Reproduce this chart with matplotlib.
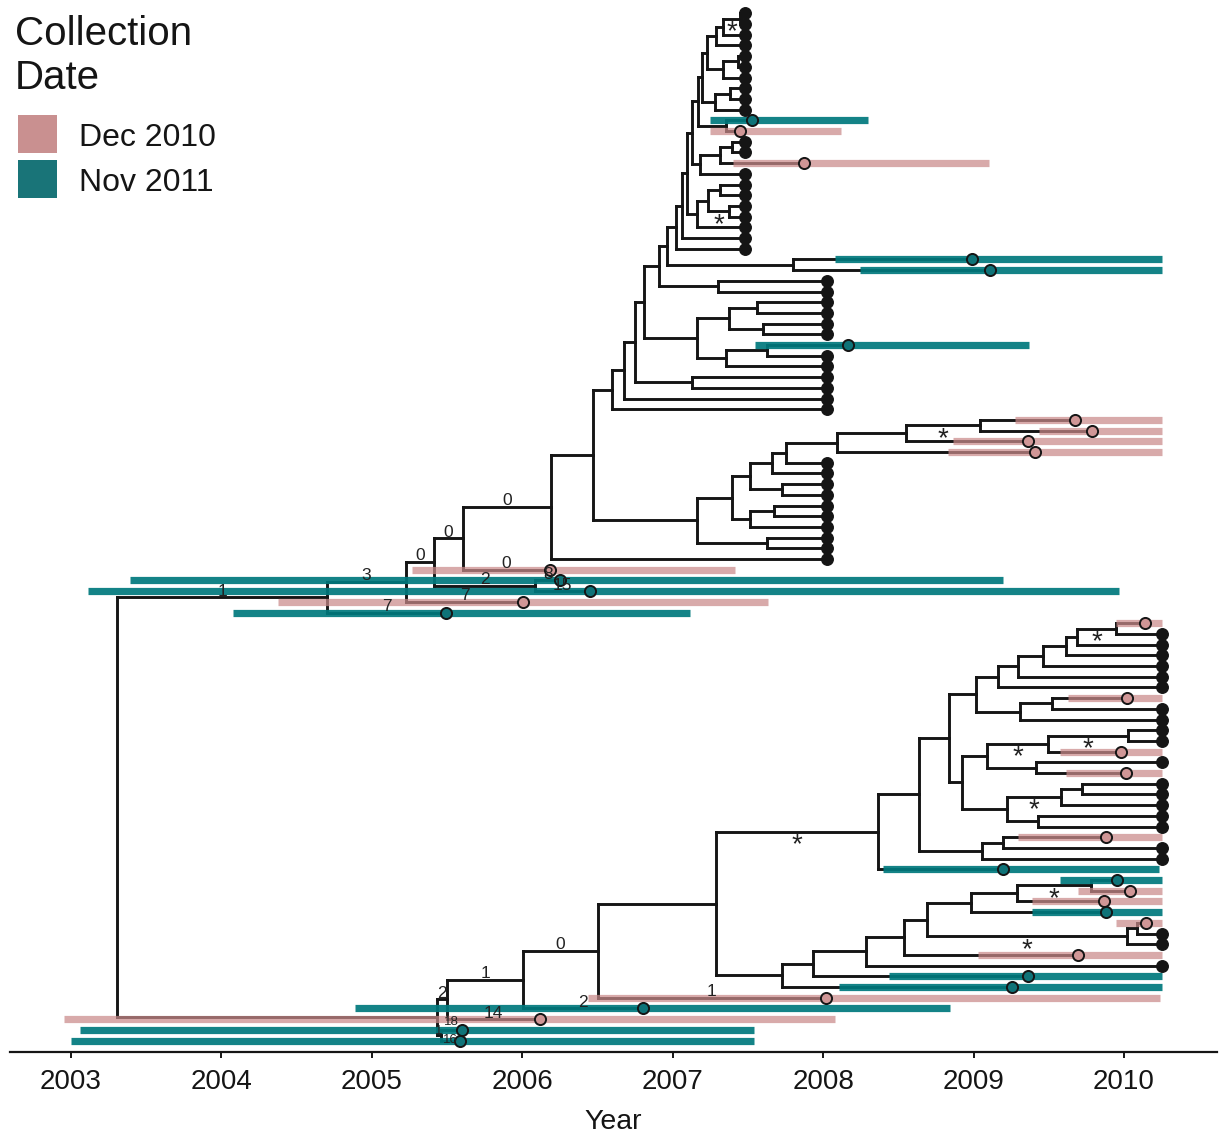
import matplotlib
matplotlib.use('Agg')
import matplotlib.pyplot as plt
from matplotlib.collections import LineCollection
from matplotlib.patches import Rectangle

plt.rcParams['font.family'] = ['Liberation Sans', 'DejaVu Sans']

years = [2003, 2004, 2005, 2006, 2007, 2008, 2009, 2010]
legend_title = ['Collection', 'Date']
legend_labels = ['Dec 2010', 'Nov 2011']

# unsampled (black) tips, grouped by tip date
rows_2007 = list(range(0, 10)) + [12, 13] + list(range(15, 23))
rows_2008 = list(range(25, 31)) + list(range(32, 38)) + list(range(42, 52))
rows_2010 = list(range(58, 64)) + [65, 66, 67, 68, 70, 72, 73, 74, 75, 76, 78, 79, 86, 87, 89]
date_2007 = 2007.48
date_2008 = 2008.026
date_2010 = 2010.253

# sampled tips: row, collection group, estimated date, HPD interval
samp_rows = [10, 11, 14, 23, 24, 31, 38, 39, 40, 41, 52, 53, 54, 55, 56, 57, 64,
             69, 71, 77, 80, 81, 82, 83, 84, 85, 88, 90, 91, 92, 93, 94, 95, 96]
samp_group = ['Nov', 'Dec', 'Dec', 'Nov', 'Nov', 'Nov', 'Dec', 'Dec', 'Dec', 'Dec',
              'Dec', 'Nov', 'Nov', 'Dec', 'Nov', 'Dec', 'Dec', 'Dec', 'Dec', 'Dec',
              'Nov', 'Nov', 'Dec', 'Dec', 'Nov', 'Dec', 'Dec', 'Nov', 'Nov', 'Dec',
              'Nov', 'Dec', 'Nov', 'Nov']
samp_date = [2007.527, 2007.447, 2007.873, 2008.990, 2009.109, 2008.165, 2009.674,
             2009.787, 2009.362, 2009.408, 2006.184, 2006.251, 2006.450, 2006.005,
             2005.493, 2010.140, 2010.020, 2009.980, 2010.013, 2009.880, 2009.196,
             2009.953, 2010.040, 2009.867, 2009.880, 2010.146, 2009.694, 2009.362,
             2009.255, 2008.019, 2006.802, 2006.118, 2005.599, 2005.586]
samp_lo = [2007.248, 2007.248, 2007.401, 2008.079, 2008.245, 2007.547, 2009.275,
           2009.435, 2008.863, 2008.830, 2005.267, 2003.392, 2003.113, 2004.376,
           2004.077, 2009.947, 2009.628, 2009.575, 2009.614, 2009.295, 2008.398,
           2009.575, 2009.694, 2009.388, 2009.388, 2009.947, 2009.029, 2008.438,
           2008.105, 2006.437, 2004.888, 2002.953, 2003.060, 2003.000]
samp_hi = [2008.298, 2008.119, 2009.103, 2010.253, 2010.253, 2009.368, 2010.253,
           2010.253, 2010.253, 2010.253, 2007.414, 2009.196, 2009.967, 2007.633,
           2007.115, 2010.253, 2010.253, 2010.253, 2010.253, 2010.253, 2010.233,
           2010.253, 2010.253, 2010.253, 2010.253, 2010.253, 2010.253, 2010.253,
           2010.253, 2010.240, 2008.843, 2008.079, 2007.540, 2007.540]

# internal nodes: name, date, children (tip rows or node names)
node_names = ['a', 'b', 'c', 'd', 'e', 'f', 'g', 'h', 'i', 'j', 'k', 'l', 'm', 'n', 'o',
              'p1', 'p2', 'p', 'q', 'r', 's', 't', 'u1', 'u', 'v1', 'v', 'w1', 'w2', 'w',
              'x1', 'x', 'y', 'z', 'aa', 'ab', 'ac', 'ad', 'ae1', 'ae2', 'ae3', 'ae4',
              'ae5', 'ae6', 'ae7', 'af1', 'af2', 'ag', 'ah', 'ai', 'aj', 'ak', 'al', 'am',
              'an', 'ao', 'ap',
              'b01', 'b02', 'b03', 'b04', 'b05', 'b06', 'b07', 'b08', 'b09', 'b10', 'b11',
              'b12', 'b13', 'b14', 'b15', 'b16', 'b17', 'b18', 'b19', 'b20', 'b21', 'b22',
              'b23', 'b24', 'b25', 'b26', 'b27', 'b28', 'b29', 'b30', 'b31', 'b32', 'b33',
              'b34', 'b35', 'b36', 'b37', 'b38', 'b39', 'root']
node_dates = [2007.447, 2007.334, 2007.288, 2007.434, 2007.334, 2007.228, 2007.381,
              2007.281, 2007.195, 2007.354, 2007.168, 2007.394, 2007.314, 2007.181,
              2007.128, 2007.314, 2007.374, 2007.234, 2007.161, 2007.095, 2007.062,
              2007.022, 2007.800, 2006.962, 2007.301, 2006.909, 2007.560, 2007.600,
              2007.374, 2007.627, 2007.354, 2007.161, 2006.809, 2007.128, 2006.749,
              2006.676, 2006.596, 2009.043, 2008.551, 2008.092, 2007.753, 2007.660,
              2007.726, 2007.514, 2007.673, 2007.514, 2007.394, 2007.627, 2007.161,
              2006.470, 2006.191, 2005.606, 2006.085, 2005.413, 2005.227, 2004.702,
              2009.947, 2009.687, 2009.614, 2009.461, 2009.295, 2009.162, 2009.521,
              2009.309, 2009.016, 2010.027, 2009.495, 2009.415, 2009.089, 2009.721,
              2009.581, 2009.428, 2009.222, 2008.923, 2008.837, 2009.196, 2009.056,
              2008.637, 2008.365, 2009.781, 2009.289, 2008.983, 2010.086, 2010.020,
              2008.690, 2008.537, 2008.285, 2007.933, 2007.726, 2007.288, 2006.503,
              2006.005, 2005.500, 2005.460, 2005.433, 2003.306]
node_kids = [[0, 1], ['a', 2], ['b', 3], [4, 5], ['d', 6], ['c', 'e'], [7, 8], ['g', 9],
             ['f', 'h'], [10, 11], ['i', 'j'], [12, 13], ['l', 14], ['m', 15], ['k', 'n'],
             [16, 17], [18, 19], ['p1', 'p2'], ['p', 20], ['o', 'q'], ['r', 21], ['s', 22],
             [23, 24], ['t', 'u1'], [25, 26], ['u', 'v1'], [27, 28], [29, 30], ['w1', 'w2'],
             [31, 32], ['x1', 33], ['w', 'x'], ['v', 'y'], [34, 35], ['z', 'aa'],
             ['ab', 36], ['ac', 37], [38, 39], ['ae1', 40], ['ae2', 41], ['ae3', 42],
             ['ae4', 43], [44, 45], ['ae5', 'ae6'], [46, 47], ['af1', 48], ['ae7', 'af2'],
             [49, 50], ['ag', 'ah'], ['ad', 'ai'], ['aj', 51], ['ak', 52], [53, 54],
             ['al', 'am'], ['an', 55], ['ao', 56],
             [57, 58], ['b01', 59], ['b02', 60], ['b03', 61], ['b04', 62], ['b05', 63],
             [64, 65], ['b07', 66], ['b06', 'b08'], [67, 68], ['b10', 69], [70, 71],
             ['b11', 'b12'], [72, 73], ['b14', 74], [75, 76], ['b15', 'b16'],
             ['b13', 'b17'], ['b09', 'b18'], [77, 78], ['b20', 79], ['b19', 'b21'],
             ['b22', 80], [81, 82], ['b24', 83], ['b25', 84], [85, 86], ['b27', 87],
             ['b26', 'b28'], ['b29', 88], ['b30', 89], ['b31', 90], ['b32', 91],
             ['b23', 'b33'], ['b34', 92], ['b35', 93], ['b36', 94], [95, 96],
             ['b37', 'b38'], ['ap', 'b39']]

# branch annotations (keyed by the child end of the branch)
branch_labels = {'ap': '1', 'ao': '3', 56: '7', 'an': '0', 55: '7', 'al': '0', 'am': '2',
                 53: '8', 54: '15', 'ak': '0', 52: '0', 'b37': '2', 'b38': '1', 95: '18',
                 96: '16', 'b36': '1', 94: '14', 'b35': '0', 93: '2', 92: '1'}
star_nodes = ['a', 'p2', 'ae1', 'b23', 'b01', 'b11', 'b10', 'b15', 'b24', 'b28']

col_bar = {'Dec': '#C98A8A', 'Nov': '#00797D'}
alpha_bar = {'Dec': 0.72, 'Nov': 0.92}
col_pt = {'Dec': '#D09696', 'Nov': '#0F7378'}
col_legend = ['#C99090', '#197478']
line_col = '#151515'

# ---- tree layout ----
nodes = {n: (d, k) for n, d, k in zip(node_names, node_dates, node_kids)}
tip_date = {}
for r in rows_2007:
    tip_date[r] = date_2007
for r in rows_2008:
    tip_date[r] = date_2008
for r in rows_2010:
    tip_date[r] = date_2010
for r, d in zip(samp_rows, samp_date):
    tip_date[r] = d

parent = {}
for n, (d, kids) in nodes.items():
    for k in kids:
        parent[k] = n


def xpos(k):
    return nodes[k][0] if isinstance(k, str) else tip_date[k]


ycache = {}


def ypos(k):
    if not isinstance(k, str):
        return float(k)
    if k not in ycache:
        kids = nodes[k][1]
        ycache[k] = (ypos(kids[0]) + ypos(kids[-1])) / 2.0
    return ycache[k]


W, H = 1221, 1134
fig = plt.figure(figsize=(W / 100, H / 100), dpi=100)
ax = fig.add_axes([10 / W, (H - 1052) / H, 1207 / W, 1052 / H])

segs = []
for n, (d, kids) in nodes.items():
    ys = [ypos(k) for k in kids]
    segs.append([(d, min(ys)), (d, max(ys))])
    for k in kids:
        segs.append([(d, ypos(k)), (xpos(k), ypos(k))])
ax.add_collection(LineCollection(segs, colors=line_col, linewidths=2.1,
                                 capstyle='projecting', zorder=1))

# HPD bars
for r, g, lo, hi in zip(samp_rows, samp_group, samp_lo, samp_hi):
    ax.hlines(r, lo, hi, color=col_bar[g], alpha=alpha_bar[g], lw=5.2,
              capstyle='butt', zorder=2)

# tips
black_x = [date_2007] * len(rows_2007) + [date_2008] * len(rows_2008) + [date_2010] * len(rows_2010)
black_y = rows_2007 + rows_2008 + rows_2010
ax.plot(black_x, black_y, 'o', ms=8.3, mfc=line_col, mec=line_col, mew=1.0, zorder=3)
for g in ['Dec', 'Nov']:
    xs = [d for d, gg in zip(samp_date, samp_group) if gg == g]
    ys = [r for r, gg in zip(samp_rows, samp_group) if gg == g]
    ax.plot(xs, ys, 'o', ms=8, mfc=col_pt[g], mec=line_col, mew=1.4, zorder=3)

# branch labels (the crowded ones near the bottom are shrunk and spread a little)
small_shift = {95: -0.45, 96: 0.2, 'b38': -0.1}
for k, txt in branch_labels.items():
    xm = (nodes[parent[k]][0] + xpos(k)) / 2.0
    fs = 9.5 if k in small_shift else 12.5
    dy = small_shift.get(k, -0.15)
    ax.text(xm, ypos(k) + dy, txt, ha='center', va='baseline', fontsize=fs,
            color='#222222', zorder=4)
for k in star_nodes:
    xm = (nodes[parent[k]][0] + xpos(k)) / 2.0
    ax.text(xm, ypos(k) + 0.05, '*', ha='center', va='top', fontsize=20,
            color='#222222', zorder=4)

ax.set_xlim(2002.5945, 2010.618)
ax.set_ylim(97.07, -1.243)
for s in ['left', 'top', 'right']:
    ax.spines[s].set_visible(False)
ax.spines['bottom'].set_linewidth(1.6)
ax.spines['bottom'].set_color(line_col)
ax.set_yticks([])
ax.set_xticks(years)
ax.set_xticklabels([str(y) for y in years])
ax.tick_params(axis='x', length=4.5, width=1.4, pad=8, labelsize=20, colors=line_col)
ax.set_xlabel('Year', fontsize=20.5, labelpad=10, color=line_col)


# legend (figure pixel coordinates)
def fx(px):
    return px / W


def fy(py):
    return 1 - py / H


fig.text(fx(15), fy(45), legend_title[0], fontsize=29, va='baseline', ha='left', color=line_col)
fig.text(fx(15), fy(89), legend_title[1], fontsize=29, va='baseline', ha='left', color=line_col)
for i, (lab, c) in enumerate(zip(legend_labels, col_legend)):
    top = 115 + i * 45
    fig.add_artist(Rectangle((fx(18), fy(top + 38)), 39 / W, 38 / H, transform=fig.transFigure,
                             facecolor=c, edgecolor='none'))
    fig.text(fx(79), fy(top + 31), lab, fontsize=23, va='baseline', ha='left', color=line_col)

fig.savefig('out.png', dpi=100)
